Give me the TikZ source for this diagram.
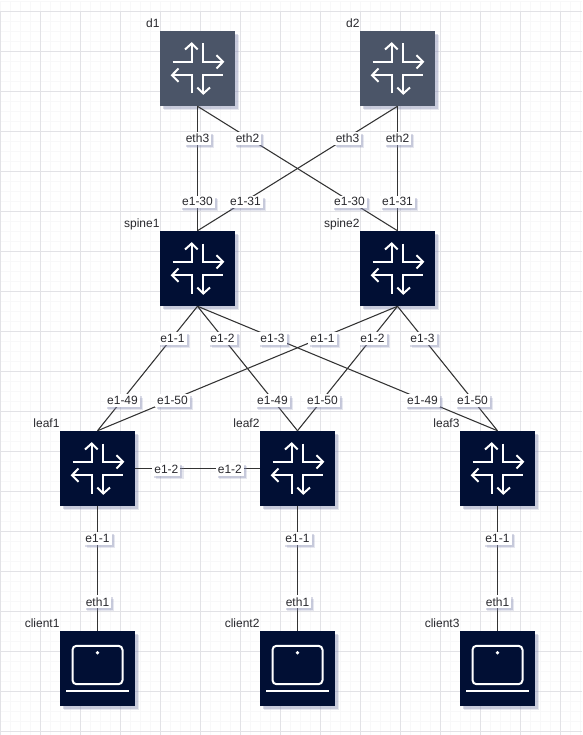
\documentclass[tikz,border=0pt]{standalone}
\usepackage{fontspec}
\setmainfont{Liberation Sans}
\usetikzlibrary{positioning, shadows}
\definecolor{navy}{RGB}{1,15,52}
\definecolor{slate}{RGB}{75,85,104}
\definecolor{gridmajor}{RGB}{226,226,230}
\definecolor{gridminor}{RGB}{248,248,249}
\definecolor{shade}{RGB}{130,135,175}
\definecolor{ink}{RGB}{40,40,45}
\tikzset{
  pics/routericon/.style={code={
    \draw[icon] (-25,-6.7) -- (-5.8,-6.7) -- (-5.8,-25);
    \draw[icon] (-12.5,-19) -- (-5.8,-25) -- (0.2,-19);
    \draw[icon] (5.8,-25) -- (5.8,-6.7) -- (25.5,-6.7);
    \draw[icon] (19,-13.3) -- (25.5,-6.7) -- (19,0);
    \draw[icon] (25,6.7) -- (5.8,6.7) -- (5.8,25);
    \draw[icon] (-0.2,19) -- (5.8,25) -- (12.5,19);
    \draw[icon] (-5.8,25) -- (-5.8,6.7) -- (-25.5,6.7);
    \draw[icon] (-19,0) -- (-25.5,6.7) -- (-19,13.3);
  }},
  pics/laptopicon/.style={code={
    \draw[icon, rounded corners=3pt] (-25,-22.7) rectangle (25,15.7);
    \draw[icon] (-31.5,22) -- (31.5,22);
    \fill[white] (0,-15.7) circle (1.9);
  }},
}
\begin{document}
\begin{tikzpicture}[
    x=0.75pt, y=-0.75pt,
    node distance=150pt, on grid,
    icon/.style={draw=white, line width=1.5pt},
    device/.style={minimum size=56.25pt, inner sep=0pt, fill=navy,
      drop shadow={shadow xshift=3pt, shadow yshift=-3pt, fill=shade, opacity=0.2},
      drop shadow={shadow xshift=2pt, shadow yshift=-2pt, fill=shade, opacity=0.3}},
    tag/.style={anchor=base east, inner sep=0pt, font=\fontsize{9}{10}\selectfont, text=ink},
    port/.style={fill=white, inner sep=1.5pt, yshift=-0.75pt, font=\fontsize{9}{10}\selectfont, text=ink,
      drop shadow={shadow xshift=2.4pt, shadow yshift=-2.4pt, fill=shade, opacity=0.2},
      drop shadow={shadow xshift=1.5pt, shadow yshift=-1.5pt, fill=shade, opacity=0.3}},
    link/.style={draw=black!80, line width=0.8pt},
  ]
  \useasboundingbox (0,0) rectangle (582,735);
  \fill[white] (0,0) rectangle (582,735);
  \draw[gridminor, line width=0.75pt, shift={(0.5,1.5)}] (0,0) grid[step=7.5pt] (581,733);
  \draw[gridmajor, line width=0.75pt, shift={(0.5,11.5)}] (0,0) grid[step=30pt] (581,723);

  % devices
  \node[device, fill=slate] (d1) at (197.5,68.5) {};
  \node[device, fill=slate] (d2) [right=of d1] {};
  \node[device] (spine1) [below=of d1] {};
  \node[device] (spine2) [below=of d2] {};
  \node[device] (leaf1) [below left=150pt and 75pt of spine1] {};
  \node[device] (leaf2) [right=of leaf1] {};
  \node[device] (leaf3) [right=of leaf2] {};
  \node[device] (client1) [below=of leaf1] {};
  \node[device] (client2) [below=of leaf2] {};
  \node[device] (client3) [below=of leaf3] {};

  % links
  \path[link] (d1.south) -- (spine1.north)
    node[port, pos=.25] (p1) {eth3} node[port, pos=.76] (p2) {e1-30};
  \path[link] (d1.south) -- (spine2.north)
    node[port, pos=.25] (p3) {eth2} node[port, pos=.76] (p4) {e1-30};
  \path[link] (d2.south) -- (spine1.north)
    node[port, pos=.25] (p5) {eth3} node[port, pos=.76] (p6) {e1-31};
  \path[link] (d2.south) -- (spine2.north)
    node[port, pos=.25] (p7) {eth2} node[port, pos=.76] (p8) {e1-31};
  \path[link] (spine1.south) -- (leaf1.north)
    node[port, pos=.25] (p9) {e1-1} node[port, pos=.75] (p10) {e1-49};
  \path[link] (spine1.south) -- (leaf2.north)
    node[port, pos=.25] (p11) {e1-2} node[port, pos=.75] (p12) {e1-49};
  \path[link] (spine1.south) -- (leaf3.north)
    node[port, pos=.25] (p13) {e1-3} node[port, pos=.75] (p14) {e1-49};
  \path[link] (spine2.south) -- (leaf1.north)
    node[port, pos=.25] (p15) {e1-1} node[port, pos=.75] (p16) {e1-50};
  \path[link] (spine2.south) -- (leaf2.north)
    node[port, pos=.25] (p17) {e1-2} node[port, pos=.75] (p18) {e1-50};
  \path[link] (spine2.south) -- (leaf3.north)
    node[port, pos=.25] (p19) {e1-3} node[port, pos=.75] (p20) {e1-50};
  \path[link] (leaf1.east) -- (leaf2.west)
    node[port, pos=.25] (p21) {e1-2} node[port, pos=.76] (p22) {e1-2};
  \path[link] (leaf1.south) -- (client1.north)
    node[port, pos=.25] (p23) {e1-1} node[port, pos=.76] (p24) {eth1};
  \path[link] (leaf2.south) -- (client2.north)
    node[port, pos=.25] (p25) {e1-1} node[port, pos=.76] (p26) {eth1};
  \path[link] (leaf3.south) -- (client3.north)
    node[port, pos=.25] (p27) {e1-1} node[port, pos=.76] (p28) {eth1};

  % icons
  \pic at (d1) {routericon};
  \pic at (d2) {routericon};
  \pic at (spine1) {routericon};
  \pic at (spine2) {routericon};
  \pic at (leaf1) {routericon};
  \pic at (leaf2) {routericon};
  \pic at (leaf3) {routericon};
  \pic at (client1) {laptopicon};
  \pic at (client2) {laptopicon};
  \pic at (client3) {laptopicon};

  % names
  \node[tag] (d1name) at ([yshift=2.2pt]d1.north west) {d1};
  \node[tag] (d2name) at ([yshift=2.2pt]d2.north west) {d2};
  \node[tag] (spine1name) at ([yshift=2.2pt]spine1.north west) {spine1};
  \node[tag] (spine2name) at ([yshift=2.2pt]spine2.north west) {spine2};
  \node[tag] (leaf1name) at ([yshift=2.2pt]leaf1.north west) {leaf1};
  \node[tag] (leaf2name) at ([yshift=2.2pt]leaf2.north west) {leaf2};
  \node[tag] (leaf3name) at ([yshift=2.2pt]leaf3.north west) {leaf3};
  \node[tag] (client1name) at ([yshift=2.2pt]client1.north west) {client1};
  \node[tag] (client2name) at ([yshift=2.2pt]client2.north west) {client2};
  \node[tag] (client3name) at ([yshift=2.2pt]client3.north west) {client3};
\end{tikzpicture}
\end{document}
